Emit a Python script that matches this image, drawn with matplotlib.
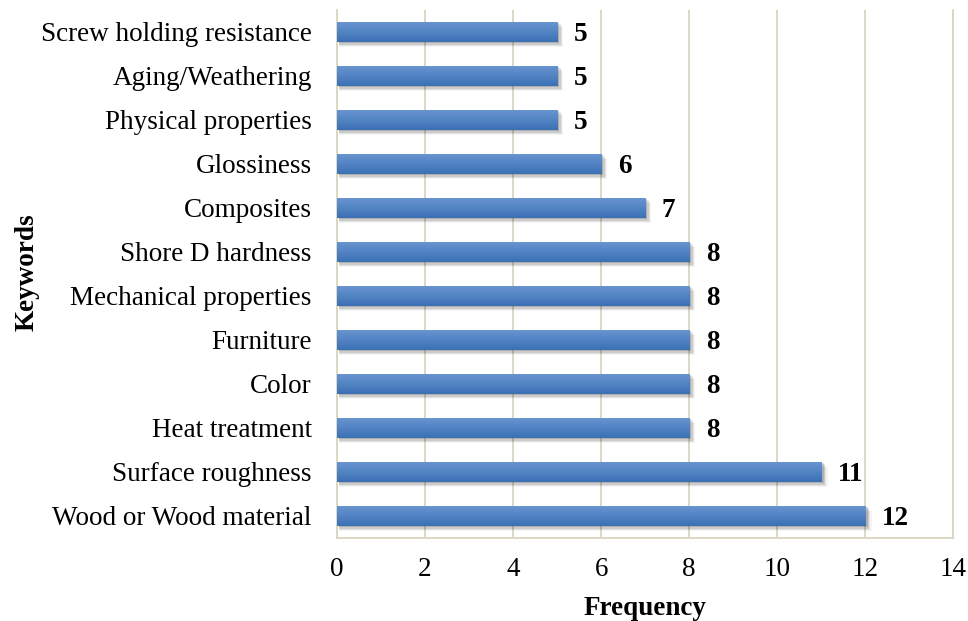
import numpy as np
import matplotlib
matplotlib.use("Agg")
import matplotlib.pyplot as plt
from matplotlib.patches import Rectangle

keywords = ["Wood or Wood material", "Surface roughness", "Heat treatment", "Color",
            "Furniture", "Mechanical properties", "Shore D hardness", "Composites",
            "Glossiness", "Physical properties", "Aging/Weathering",
            "Screw holding resistance"]
frequency = [12, 11, 8, 8, 8, 8, 8, 7, 6, 5, 5, 5]
xticks = [0, 2, 4, 6, 8, 10, 12, 14]

GRID = "#d9d5c0"
BAR_H = 0.46

plt.rcParams["font.family"] = ["Liberation Serif", "DejaVu Serif"]

fig = plt.figure(figsize=(9.68, 6.21), dpi=100)
ax = fig.add_axes([0.348, 0.134, 0.637, 0.85])

# vertical gradient, light at top of each bar, darker at the bottom
grad = np.linspace(0, 1, 64).reshape(-1, 1)
top = np.array([0.42, 0.59, 0.82])
bot = np.array([0.23, 0.44, 0.71])
img = (top[None, None, :] * (1 - grad[..., None]) + bot[None, None, :] * grad[..., None])

for i, v in enumerate(frequency):
    y0 = i - BAR_H / 2
    # soft drop shadow
    for k, a in enumerate([0.14, 0.10, 0.07, 0.04]):
        off = 0.03 + k * 0.03
        ax.add_patch(Rectangle((0.05, y0 - off), v + 0.03 * k, BAR_H, color="black",
                               alpha=a, lw=0, zorder=2))
    rect = Rectangle((0, y0), v, BAR_H, facecolor="none", lw=0, zorder=3)
    ax.add_patch(rect)
    im = ax.imshow(img, extent=[0, v, y0, y0 + BAR_H], aspect="auto",
                   origin="upper", zorder=3, interpolation="bilinear")
    im.set_clip_path(rect)
    ax.text(v + 0.38, i, str(v), va="center_baseline", ha="left", fontsize=19.5,
            fontweight="bold", zorder=4)

ax.set_xlim(0, 14)
ax.set_ylim(-0.5, len(keywords) - 0.5)
ax.set_xticks(xticks)
ax.set_yticks(range(len(keywords)))
ax.set_yticklabels(keywords)
ax.tick_params(axis="both", length=0, labelsize=19.5)
ax.tick_params(axis="x", pad=14)
ax.tick_params(axis="y", pad=18)
ax.grid(axis="x", color=GRID, lw=1.3, zorder=0)
ax.set_axisbelow(True)
for side in ["left", "right", "bottom"]:
    ax.spines[side].set_color(GRID)
    ax.spines[side].set_linewidth(1.3)
ax.spines["top"].set_visible(False)

ax.set_xlabel("Frequency", fontsize=19.5, fontweight="bold", labelpad=10)
ax.set_ylabel("Keywords", fontsize=19.5, fontweight="bold")
ax.yaxis.set_label_coords(-0.482, 0.504)

fig.savefig("out.png", dpi=100)
